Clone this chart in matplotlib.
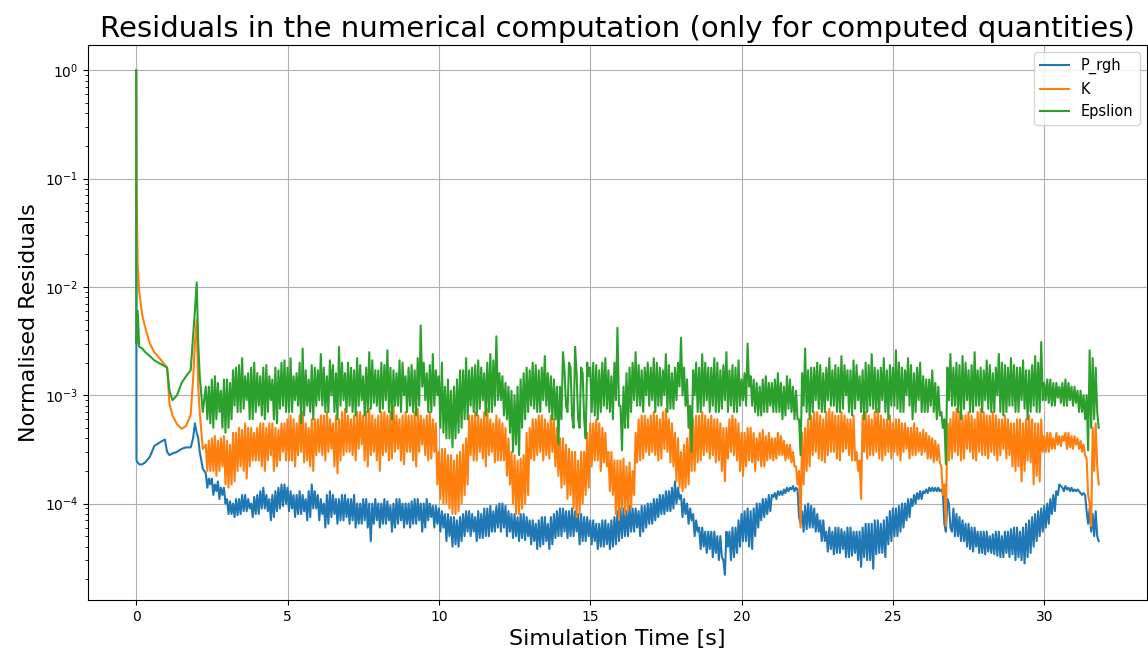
import matplotlib
matplotlib.use("Agg")
import matplotlib.pyplot as plt
import numpy as np

# start-up phase, read point by point (seconds)
time_start = [0.0, 0.01, 0.05, 0.1, 0.2, 0.3, 0.45, 0.6, 0.8, 0.95, 1.02, 1.1,
              1.2, 1.35, 1.5, 1.65, 1.8, 1.88, 1.94, 2.0, 2.05, 2.1, 2.2]

# P_rgh in units of 1e-5
p_rgh_start = [100000, 25, 24, 23, 23, 24, 27, 34, 37, 39, 30, 28,
               29, 30, 32, 33, 33, 40, 55, 45, 40, 30, 21]
# K in units of 1e-4
k_start = [10000, 900, 160, 90, 55, 42, 30, 25, 21.5, 19, 18, 8.3,
           6.5, 5.4, 4.9, 5.2, 6.6, 14, 30, 50, 12, 7, 3.2]
# Epsilon in units of 1e-4
eps_start = [10000, 30, 60, 28, 27, 25, 23, 21, 19.5, 18.5, 18, 11,
             9, 10, 13, 15, 17, 35, 60, 110, 30, 15, 7]

# noisy phase: two readings (a and b) per 0.1 s slot from 2.3 s to 31.8 s,
# one near the top of the band and one near the bottom
p_rgh_a = [
    19, 15, 17, 13, 16, 12, 14,                  # 2.3
    11, 8, 10, 7.8, 11, 8.5, 12, 9, 10, 8,       # 3
    12, 9, 14, 8.5, 11, 7.5, 13, 9, 15, 10,      # 4
    14, 9, 12, 8, 13, 8.5, 11, 7.5, 15, 9,       # 5
    12, 8, 10, 6.5, 13, 8, 11, 7, 12, 7.5,       # 6
    11, 7, 12, 6.5, 10, 7, 11, 4.5, 10, 7,       # 7
    10, 6.5, 11, 7, 9.5, 6, 11, 7, 10, 6.5,      # 8
    10, 6.5, 11, 7, 10, 6, 11, 7.5, 9.5, 6.5,    # 9
    9, 6, 8, 5, 7.5, 4.2, 7, 4.5, 8, 5.5,        # 10
    8.5, 5.5, 7.5, 4.8, 8, 5, 9, 5.5, 8.5, 6,    # 11
    10, 6, 9.5, 5.5, 8, 5, 7.5, 4.8, 8, 5,       # 12
    7, 4.5, 6.5, 4, 7.5, 4.5, 6.5, 4.2, 8, 5,    # 13
    9, 5.5, 8.5, 5, 9, 5.5, 8, 4.5, 7.5, 5,      # 14
    7, 4.5, 6.5, 4, 7, 4.2, 6.5, 4, 7.5, 4.5,    # 15
    9, 5, 8.5, 5.5, 9, 6, 8.5, 5.5, 9.5, 6.5,    # 16
    10, 7, 11, 8, 12, 8.5, 13, 9, 16, 11,        # 17
    12, 8, 10, 7, 8, 5.5, 6, 4, 5.5, 3.8,        # 18
    5.5, 3.5, 5, 3.2, 2.2, 4, 5.5, 3.2, 6, 4,    # 19
    8, 4.5, 9, 3.8, 9, 6, 10, 7.5, 11, 8.5,      # 20
    12, 11, 13, 12, 13.5, 13, 14, 13, 14, 6.5,   # 21
    8.5, 5.8, 10, 6, 9, 5.5, 7, 4.5, 5.5, 3.8,   # 22
    5.5, 3.5, 6, 3.8, 5.5, 3.2, 6, 3.5, 5.5, 2.6,  # 23
    6, 3, 6.5, 2.5, 7, 3.5, 6.5, 3.2, 7.5, 4.5,  # 24
    9, 5, 9.5, 6, 10, 7.5, 11, 10, 12.5, 11,     # 25
    13, 12.5, 14, 13, 14, 13, 13.5, 6.5, 11, 5.5,  # 26
    9, 5, 7.5, 4.5, 6.5, 3.8, 6, 4, 5.5, 3.5,    # 27
    5.5, 3.6, 5, 3.4, 5.5, 3.2, 5, 3.5, 5.5, 3.4,  # 28
    6, 3.2, 5.5, 2.8, 6.5, 3.5, 7.5, 4.5, 8.5, 5.5,  # 29
    9.5, 6.5, 11, 8.5, 13, 14.5, 14, 13.5, 14, 13,   # 30
    13.5, 13, 12.5, 12, 6.5, 9, 5, 8.5, 4.5,     # 31
]
p_rgh_b = [
    14, 17, 12, 15, 11, 14, 10,                  # 2.3
    8, 10.5, 7.5, 11, 8, 12, 8.5, 11, 7.5, 11.5,  # 3
    8, 13, 9, 12, 7, 12, 8.5, 14, 9.5, 15,       # 4
    8.5, 13, 7.5, 12, 8, 12, 7, 13, 9, 13,       # 5
    7, 11, 6, 12, 7.5, 12, 6.5, 11, 7, 12,       # 6
    6.5, 11, 6, 10, 6.5, 11, 6, 10, 6.5, 11,     # 7
    6, 10, 6.5, 10.5, 5.5, 10, 6.5, 11, 6, 10,   # 8
    6, 10.5, 6.5, 11, 5.5, 10, 7, 10, 6, 9.5,    # 9
    5.5, 8.5, 4.5, 8, 4, 7.5, 4, 7.5, 5, 8.5,    # 10
    5, 8, 4.5, 8.5, 4.8, 9, 5, 9.5, 5.5, 9.5,    # 11
    5.5, 10, 5, 8.5, 4.8, 8, 4.5, 8, 4.6, 7.5,   # 12
    4.2, 7, 3.8, 7, 4.2, 7.5, 3.8, 7.5, 4.8, 8.5,  # 13
    5, 9, 4.8, 8.5, 5, 8.5, 4.2, 8, 4.5, 7.5,    # 14
    4.2, 7, 3.8, 6.5, 4, 7, 3.8, 7, 4.2, 8.5,    # 15
    4.8, 9, 5, 9.5, 5.5, 9, 5, 9.5, 6, 10,       # 16
    6.5, 11, 7.5, 12, 8, 13, 8.5, 14, 10, 14,    # 17
    7.5, 11, 6.5, 9, 5, 7, 3.8, 6, 3.5, 5.5,     # 18
    3.2, 5.5, 3, 5, 3, 5.5, 3, 6, 3.5, 7,        # 19
    4.5, 8.5, 4, 8.5, 5, 10, 7, 11, 8, 12,       # 20
    11.5, 12.5, 12, 13, 12.5, 14, 13.5, 14.5, 13.5, 7.5,  # 21
    5.5, 9.5, 6, 9.5, 5.5, 8, 4.5, 7, 3.6, 6,    # 22
    3.4, 6, 3.5, 5.8, 3.2, 6, 3.3, 5.5, 3, 5.5,  # 23
    3.2, 6.5, 3, 6.5, 3.4, 7, 3.5, 7, 4.2, 8.5,  # 24
    5, 9, 5.5, 10, 7, 11, 9.5, 12, 11, 13,       # 25
    12.5, 13.5, 13, 14, 13, 14, 12.5, 5.5, 10, 6,  # 26
    5, 8, 4.5, 7, 4, 6.5, 3.6, 6, 3.5, 5.5,      # 27
    3.4, 5.5, 3.5, 5.2, 3.3, 5.5, 3.2, 5.5, 3.2, 5.8,  # 28
    3, 6, 3, 6, 3.2, 7, 4, 8, 5, 9,              # 29
    6, 10, 8, 12, 12, 15, 13, 14.5, 13, 14,      # 30
    13, 13.5, 12, 12.5, 8.5, 5.5, 8, 5,          # 31
]

k_a = [
    3.5, 2, 4, 1.8, 3.8, 2.2, 4.2,               # 2.3
    1.4, 3.5, 1.6, 4.5, 2.2, 4.8, 1.7, 5, 2.5, 4.5,  # 3
    2.5, 5.5, 2, 5, 2.8, 5.5, 2.2, 4.8, 3, 5.5,  # 4
    2.5, 6.5, 2.2, 5.5, 3, 7, 2.5, 5, 2, 6,      # 5
    3, 6.5, 2.5, 7, 3.2, 5.5, 1.9, 6, 2.8, 7.5,  # 6
    3, 6, 2.5, 7, 3.5, 6.5, 2.2, 7.5, 3, 6,      # 7
    2, 7, 3, 6.5, 2.6, 8, 3.2, 6, 2.3, 7,        # 8
    3, 6.5, 2.2, 7.5, 3.5, 6, 2.5, 7, 3, 5.5,    # 9
    1.1, 3.2, 1, 2.8, 0.8, 2.5, 0.85, 3, 1.2, 4,  # 10
    6.5, 2.5, 7, 3, 6, 2.2, 7.5, 3, 5.5, 2.5,    # 11
    6, 2.5, 5, 1.5, 3, 0.8, 2.5, 0.9, 2.8, 1.2,  # 12
    5, 2.5, 6, 3, 6.5, 2.8, 5.5, 3, 6, 1.8,      # 13
    4, 1.5, 3.5, 1.2, 3, 0.75, 2.5, 1, 3, 1.4,   # 14
    5.5, 2.5, 6, 2, 5, 2.2, 3, 1.2, 2.5, 0.7,    # 15
    2.5, 0.8, 2.2, 0.9, 2, 4.5, 2.5, 6.5, 3, 6,  # 16
    3, 7, 2.5, 6, 3.2, 7.5, 2.4, 5.5, 1.6, 4,    # 17
    1.3, 3.5, 1.5, 5, 2, 6.5, 2.5, 7, 3, 6,      # 18
    2.8, 6, 2.5, 5.5, 1.6, 5, 3, 6.5, 2.5, 5.5,  # 19
    1.8, 4.5, 2.5, 5, 2, 4, 2.2, 4.8, 2.5, 4.5,  # 20
    2.5, 4, 2.8, 4.2, 2.5, 3.5, 2.4, 3, 2.2, 0.6,  # 21
    1.5, 5, 2.2, 6.5, 3, 7, 2.5, 6, 2.8, 7.5,    # 22
    3, 6.5, 2.5, 7, 3.2, 6, 2.5, 6.5, 2, 1.1,    # 23
    3, 7, 2.8, 6, 3, 7.5, 2.5, 6, 3, 6.5,        # 24
    3, 6, 2.5, 5.5, 3.2, 5, 2.8, 5.5, 3, 4.5,    # 25
    3, 4.5, 2.6, 4, 2.5, 3.5, 2.2, 0.62, 2.5, 6,  # 26
    3, 7.5, 2.5, 6.5, 3.2, 7, 2.6, 6, 3, 7.5,    # 27
    2.8, 6.5, 3, 7, 2.5, 6, 3.2, 6.5, 2.8, 5.5,  # 28
    2, 6, 1.6, 5.5, 2.5, 6.5, 1.5, 5.5, 1.6, 6,  # 29
    3, 4.5, 3.2, 4, 3.5, 4.2, 3.8, 4.5, 3.3, 4.2,  # 30
    3.5, 4, 3, 3.5, 2.6, 0.62, 2, 5.5, 1.5,      # 31
]
k_b = [
    2, 3.8, 2, 4.2, 2, 4, 1.5,                   # 2.3
    3.8, 1.5, 4.5, 2, 5, 2, 5.5, 2.2, 5, 2.5,    # 3
    5, 2.2, 5.5, 2.5, 5.5, 2, 5, 2.5, 5.5, 2.5,  # 4
    6, 2.5, 6, 2.8, 6.5, 2.4, 5.5, 2.2, 6, 2.8,  # 5
    6, 2.8, 6.5, 3, 6, 2.2, 6.5, 2.5, 7, 3,      # 6
    6.5, 2.8, 6.5, 3.2, 7, 2.5, 7, 2.8, 6.5, 2.5,  # 7
    6.5, 2.8, 7, 2.5, 7, 3, 6.5, 2.5, 6.5, 3,    # 8
    6.5, 2.5, 7, 3, 6.5, 2.8, 6.5, 2.6, 6, 1.5,  # 9
    3, 1, 3.2, 0.9, 2.8, 0.8, 2.8, 1, 3.5, 1.5,  # 10
    2.8, 6.5, 2.5, 6.5, 2.6, 7, 2.8, 6, 2.4, 6.5,  # 11
    2.5, 5.5, 1.8, 4, 1, 2.8, 0.8, 2.6, 1, 4.5,  # 12
    2.6, 6, 2.8, 6.5, 2.5, 6, 2.6, 6.5, 2.2, 5,  # 13
    1.4, 4, 1.1, 3.2, 0.9, 3, 0.8, 3, 1.2, 4.5,  # 14
    2.2, 5.5, 2.5, 5.5, 2.4, 4.5, 1.3, 3, 0.8, 2.5,  # 15
    0.9, 2.6, 0.85, 2.4, 1.2, 2.4, 6, 2.6, 6.5, 2.8,  # 16
    6.5, 2.8, 6.5, 2.6, 7, 3, 6, 2.2, 4.5, 1.4,  # 17
    3, 1.4, 4, 2, 6, 2.4, 6.5, 2.8, 6.5, 2.6,    # 18
    6.5, 2.4, 6, 2, 5, 2.6, 6, 2.8, 6, 2,        # 19
    4.5, 2.2, 5, 2.4, 4.5, 2.5, 4.5, 2.2, 4.2, 2.6,  # 20
    4, 2.6, 4.5, 2.8, 3.8, 2.6, 3.5, 2.2, 1.5, 2,  # 21
    4.5, 2, 6, 2.8, 7, 2.6, 6.5, 2.4, 7, 3,      # 22
    7, 2.6, 6.5, 3, 6.5, 2.8, 6, 2.5, 3, 2.5,    # 23
    6.5, 2.6, 6.5, 2.8, 7, 2.6, 6.5, 2.8, 6, 2.6,  # 24
    5.5, 2.8, 6, 3, 5.5, 2.6, 5, 2.8, 5, 2.8,    # 25
    4.8, 2.6, 4.2, 2.4, 3.8, 2.4, 1.2, 1.5, 5.5, 2.6,  # 26
    7, 2.8, 7, 2.6, 6.5, 3, 6.5, 2.5, 7, 2.8,    # 27
    7, 2.6, 6.5, 2.8, 6.5, 2.8, 6, 2.6, 6, 2.2,  # 28
    5.5, 2.2, 6, 2, 6, 2.4, 6, 1.8, 5.5, 3,      # 29
    4.2, 3, 4.5, 3.2, 4.5, 3.4, 4.2, 3.2, 4.5, 3.2,  # 30
    4.2, 3.2, 3.8, 2.8, 1.2, 1, 5, 2.2,          # 31
]

eps_a = [
    6, 12, 5, 15, 7, 11, 4.5,                    # 2.3
    5, 13, 8, 18, 7, 22, 9, 16, 6, 20,           # 3
    8, 15, 6, 19, 9, 14, 5.5, 17, 8, 21,         # 4
    7, 22, 9, 16, 5.5, 27, 8, 14, 6, 18,         # 5
    9, 24, 7, 15, 10, 19, 6, 28, 9, 16,          # 6
    8, 18, 6.5, 22, 9, 15, 7, 25, 8.5, 17,       # 7
    7, 20, 9, 26, 6, 17, 8, 21, 10, 15,          # 8
    8, 19, 6.5, 22, 44, 9, 16, 7, 24, 10,        # 9
    5, 20, 4, 14, 3.3, 12, 4.5, 17, 6, 22,       # 10
    8, 18, 6.5, 21, 9, 16, 7, 24, 8, 35,         # 11
    9, 15, 6, 12, 3, 10, 2.8, 14, 6, 18,         # 12
    8, 20, 7, 17, 9, 23, 7, 15, 6, 3.5,          # 13
    12, 25, 8, 18, 5, 28, 6, 16, 4, 20,          # 14
    7, 20, 6, 17, 8, 22, 7, 15, 9, 42,           # 15
    3.1, 12, 5, 18, 9, 25, 8, 17, 10, 20,        # 16
    9, 22, 8, 18, 10, 24, 7.5, 16, 9, 20,        # 17
    34, 8, 14, 3, 10, 20, 7, 24, 9, 18,          # 18
    8, 22, 7, 17, 9, 25, 8, 19, 7, 21,           # 19
    9, 16, 30, 8, 14, 6.5, 12, 7, 15, 8,         # 20
    13, 7, 16, 6, 12, 7.5, 14, 6, 11, 2.8,       # 21
    8, 27, 6, 18, 9, 20, 7, 16, 9, 22,           # 22
    8, 19, 7, 23, 10, 17, 6.5, 21, 9, 15,        # 23
    6, 20, 8, 24, 7, 17, 9, 22, 6, 19,           # 24
    8, 26, 7, 18, 10, 22, 6, 16, 9, 20,          # 25
    7, 14, 8, 17, 6, 12, 7, 2.3, 9, 24,          # 26
    8, 20, 6, 23, 9, 17, 7, 25, 8, 18,           # 27
    9, 21, 7, 16, 10, 24, 6.5, 19, 8, 22,        # 28
    7, 18, 9, 21, 6, 17, 8, 23, 7, 31,           # 29
    9, 14, 8, 13, 9.5, 12, 8, 14, 9, 12,         # 30
    8.5, 11, 7, 10, 3.1, 26, 6, 18, 5,           # 31
]
eps_b = [
    12, 5.5, 14, 6, 13, 5, 14,                   # 2.3
    14, 6, 17, 7, 19, 7.5, 15, 6, 18, 7,         # 3
    16, 6.5, 18, 7, 15, 6, 18, 7.5, 20, 7,       # 4
    18, 7, 15, 8, 20, 6.5, 17, 7, 19, 8,         # 5
    17, 8, 18, 7, 21, 7, 16, 8, 20, 7,           # 6
    20, 7, 17, 8, 19, 6.5, 18, 7.5, 21, 8,       # 7
    17, 7.5, 19, 7, 18, 8, 16, 7, 20, 7,         # 8
    18, 7, 17, 8, 12, 20, 7, 19, 8, 17,          # 9
    15, 4.5, 12, 4, 11, 4, 14, 5, 17, 6,         # 10
    17, 7, 19, 7.5, 18, 6.5, 20, 7, 21, 9,       # 11
    16, 6.5, 13, 4.5, 11, 3.5, 12, 5, 16, 7,     # 12
    17, 7.5, 19, 7, 18, 8, 16, 6, 14, 12,        # 13
    6, 17, 7, 20, 6.5, 16, 5, 18, 6, 15,         # 14
    18, 6.5, 19, 7, 20, 7.5, 17, 6, 20, 8,       # 15
    8, 5, 16, 7, 20, 8, 19, 7, 18, 8,            # 16
    18, 7, 20, 8, 17, 7, 19, 7.5, 18, 12,        # 17
    10, 18, 5, 8, 17, 7, 18, 8, 20, 7,           # 18
    18, 7, 20, 7.5, 19, 7, 17, 7, 18, 8,         # 19
    14, 8, 12, 15, 7, 13, 6.5, 14, 7, 13,        # 20
    7, 14, 7, 13, 6.5, 15, 7, 12, 6, 6,          # 21
    16, 7, 17, 7, 18, 7.5, 19, 7, 18, 8,         # 22
    17, 7, 18, 7.5, 19, 7, 17, 7.5, 19, 7,       # 23
    17, 7, 19, 7.5, 18, 7, 18, 7, 17, 8,         # 24
    18, 7.5, 20, 7, 17, 8, 19, 7, 18, 7,         # 25
    15, 7, 14, 7, 13, 6.5, 5, 6, 18, 8,          # 26
    18, 7, 19, 7.5, 20, 7, 19, 8, 17, 7,         # 27
    17, 7.5, 19, 7, 18, 7, 20, 7, 18, 8,         # 28
    19, 7, 18, 7.5, 17, 7, 19, 7, 20, 9,         # 29
    13, 8.5, 14, 8, 13, 8.5, 13, 8, 13, 8,       # 30
    12, 7, 11, 6, 10, 5, 22, 7,                  # 31
]


def build_series(start, a, b, scale):
    # each 0.1 s slot from 2.3 s holds two readings: the higher one is drawn
    # at the slot time, the lower one 0.05 s later; the final slot has one
    a = np.asarray(a, dtype=float)
    b = np.asarray(b, dtype=float)
    n = len(b)
    hi = np.maximum(a[:n], b)
    lo = np.minimum(a[:n], b)
    slot = np.round((23 + np.arange(len(a))) * 0.1, 2)
    t = np.concatenate([time_start, slot[:n], slot[:n] + 0.05, slot[n:]])
    v = np.concatenate([start, hi, lo, a[n:]]) * scale
    order = np.argsort(t, kind="stable")
    return t[order], v[order]


t_p, p_rgh = build_series(p_rgh_start, p_rgh_a, p_rgh_b, 1e-5)
t_k, k = build_series(k_start, k_a, k_b, 1e-4)
t_e, eps = build_series(eps_start, eps_a, eps_b, 1e-4)

fig, ax = plt.subplots(figsize=(11.48, 6.54), dpi=100)
fig.subplots_adjust(left=0.0767, right=0.999, bottom=0.0826, top=0.931)

ax.plot(t_p, p_rgh, label="P_rgh")
ax.plot(t_k, k, label="K")
ax.plot(t_e, eps, label="Epslion")
ax.set_yscale("log")

ax.set_title("Residuals in the numerical computation (only for computed quantities)", fontsize=21)
ax.set_xlabel("Simulation Time [s]", fontsize=16)
ax.set_ylabel("Normalised Residuals", fontsize=16)
ax.legend(loc="upper right", fontsize=10.5)
ax.grid(True)

fig.savefig("out.png", dpi=100)
